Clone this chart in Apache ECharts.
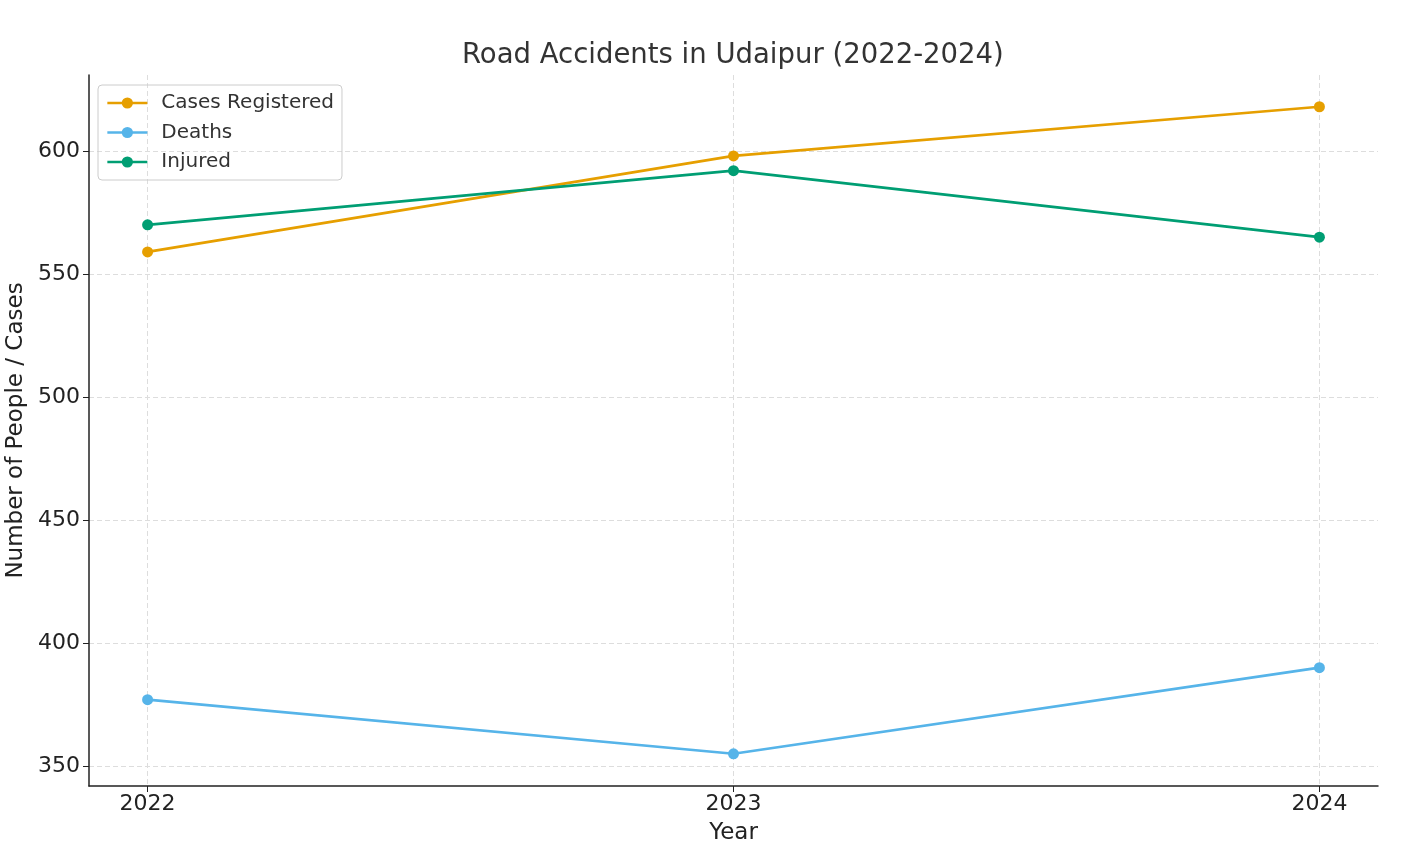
<!DOCTYPE html>
<html><head><meta charset="utf-8">
<script src="https://cdn.jsdelivr.net/npm/echarts@6/dist/echarts.min.js"></script>
<style>html,body{margin:0;padding:0;background:#fff;overflow:hidden}#c{width:1412px;height:853px}</style>
</head><body><div id="c"></div>
<script>
const years = [2022, 2023, 2024];
const casesRegistered = [559, 598, 618];
const deaths = [377, 355, 390];
const injured = [570, 592, 565];
const yTicks = [350, 400, 450, 500, 550, 600];
const seriesNames = ['Cases Registered', 'Deaths', 'Injured'];

const font = 'DejaVu Sans';
const chart = echarts.init(document.getElementById('c'), null, {renderer: 'canvas'});
function mk(name, vals, color) {
  return {
    name, type: 'line', data: years.map((y, i) => [y, vals[i]]),
    symbol: 'circle', symbolSize: 11,
    lineStyle: {color, width: 2.7}, itemStyle: {color},
    emphasis: {disabled: true}, animation: false
  };
}
chart.setOption({
  animation: false,
  title: {text: 'Road Accidents in Udaipur (2022-2024)', left: 457, top: 37,
    textStyle: {fontFamily: font, fontSize: 27.5, fontWeight: 'normal', color: '#333'}},
  legend: {
    left: 98, top: 85, orient: 'vertical', itemGap: 9.5,
    padding: [8, 8, 8, 8], borderColor: '#ccc', borderWidth: 1, borderRadius: 4,
    itemWidth: 40, itemHeight: 14,
    lineStyle: {width: 2.7},
    textStyle: {fontFamily: font, fontSize: 20, color: '#333', padding: [0, 0, 0, 9]},
    data: seriesNames
  },
  grid: {left: 89, right: 34, top: 75, bottom: 67, containLabel: false, outerBoundsMode: 'none'},
  xAxis: {
    type: 'value', min: 2021.9, max: 2024.1,
    name: 'Year', nameLocation: 'middle', nameGap: 36,
    nameTextStyle: {fontFamily: font, fontSize: 23, color: '#222'},
    axisLine: {show: true, lineStyle: {color: '#222', width: 1.5}},
    axisTick: {show: true, customValues: years, length: 6, inside: false, lineStyle: {color: '#222'}},
    axisLabel: {customValues: years, fontFamily: font, fontSize: 22, color: '#222', margin: 7,
      formatter: v => String(v)},
    splitLine: {show: true, lineStyle: {color: '#ddd', type: [5, 3], width: 1}}
  },
  yAxis: {
    type: 'value', min: 341.9, max: 630.9,
    name: 'Number of People / Cases', nameLocation: 'middle', nameGap: 61,
    nameTextStyle: {fontFamily: font, fontSize: 23, color: '#222'},
    axisLine: {show: true, lineStyle: {color: '#222', width: 1.5}},
    axisTick: {show: true, customValues: yTicks, length: 6, lineStyle: {color: '#222'}},
    axisLabel: {customValues: yTicks, fontFamily: font, fontSize: 22, color: '#222', margin: 9},
    splitLine: {show: true, lineStyle: {color: '#ddd', type: [5, 3], width: 1}}
  },
  series: [
    mk(seriesNames[0], casesRegistered, '#E69F00'),
    mk(seriesNames[1], deaths, '#56B4E9'),
    mk(seriesNames[2], injured, '#009E73')
  ]
});
</script></body></html>
